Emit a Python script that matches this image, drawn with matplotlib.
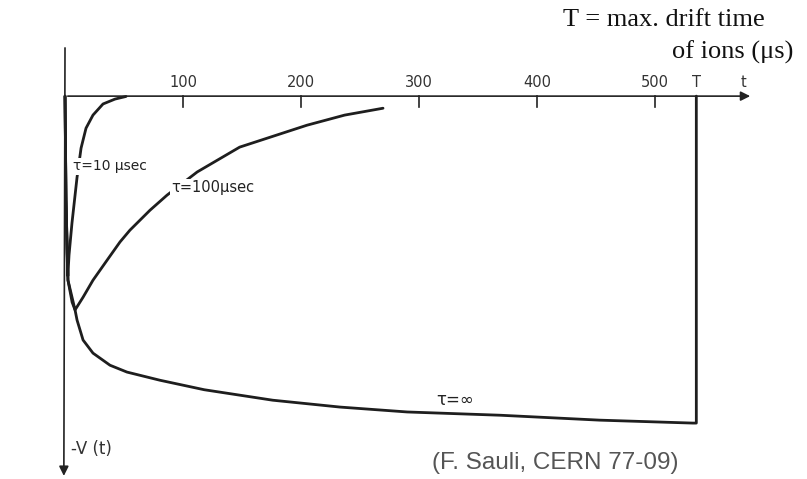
import matplotlib.pyplot as plt

# signal shape -V(t) for a proportional counter, time in microseconds
T = 535
t_inf = [0, 0.8, 2.5, 6, 8.5, 10.2, 15.3, 23.7, 38.1, 52.5, 80.5, 118, 176, 233, 290, 369, 453, 532, T, T]
v_inf = [0, 31.8, 56.3, 63, 65.4, 68.5, 74.6, 78.6, 82.3, 84.4, 86.9, 89.8, 93, 95.1, 96.6, 97.6, 99.1, 100, 100, 0]

t_10 = [0, 0.8, 1.7, 2.4, 3.4, 5.9, 10.2, 13.6, 17.8, 23.7, 32.2, 42.4, 51.7]
v_10 = [0, 30, 48, 55, 48.6, 38.8, 24.8, 15.9, 9.8, 5.8, 2.4, 0.9, 0.1]

t_100 = [0, 0.8, 2.5, 8.5, 15.3, 23.7, 35.6, 46.6, 55, 72, 86.4, 112, 148, 205, 237, 269.5]
v_100 = [0, 31.8, 56.3, 65.4, 61.5, 56.3, 50.2, 44.6, 41, 34.9, 30.3, 23.2, 15.6, 8.9, 5.8, 3.7]

ticks = [100, 200, 300, 400, 500]

fig = plt.figure(figsize=(8.07, 4.79), dpi=100)
ax = fig.add_axes([0, 0, 1, 1])
ax.set_xlim(-55.1, 628.8)
ax.set_ylim(117.1, -29.4)
ax.axis('off')

# axes with arrows
ax.annotate('', xy=(583, 0), xytext=(0, 0),
            arrowprops=dict(arrowstyle='-|>', lw=1.2, color='#222', mutation_scale=14))
ax.annotate('', xy=(-1, 117), xytext=(0, -15.6),
            arrowprops=dict(arrowstyle='-|>', lw=1.2, color='#222', mutation_scale=14))
for x in ticks:
    ax.plot([x, x], [0, 3.4], color='#222', lw=1.2)
    ax.text(x, -2.0, str(x), ha='center', va='bottom', fontsize=10.5, color='#333')
ax.text(T, -2.0, 'T', ha='center', va='bottom', fontsize=10.5, color='#333')
ax.text(575, -2.0, 't', ha='center', va='bottom', fontsize=10.5, color='#333')
ax.text(5, 108, '-V (t)', ha='left', va='center', fontsize=12, color='#333')

# curves
kw = dict(color='#1e1e1e', lw=2.0, solid_capstyle='round', solid_joinstyle='round')
ax.plot(t_inf, v_inf, **kw)
ax.plot(t_10, v_10, **kw)
ax.plot(t_100, v_100, **kw)

box = dict(facecolor='white', edgecolor='none', pad=1)
ax.text(6.5, 21.5, 'τ=10 μsec', fontsize=10, ha='left', va='center', color='#222',
        bbox=box, zorder=5)
ax.text(90, 28, 'τ=100μsec', fontsize=10.5, ha='left', va='center', color='#222',
        bbox=box, zorder=5)
ax.text(315, 93, 'τ=∞', fontsize=12, ha='left', va='center', color='#222')

fig.text(765 / 807, 1 - 26 / 479, 'T = max. drift time', ha='right', va='baseline',
         family='Liberation Serif', fontsize=19, color='#111')
fig.text(793 / 807, 1 - 59 / 479, 'of ions (μs)', ha='right', va='baseline',
         family='Liberation Serif', fontsize=19, color='#111')
fig.text(679 / 807, 1 - 463 / 479, '(F. Sauli, CERN 77-09)', ha='right', va='center',
         family='Liberation Sans', fontsize=17.5, color='#555')

fig.savefig('out.png', dpi=100)
